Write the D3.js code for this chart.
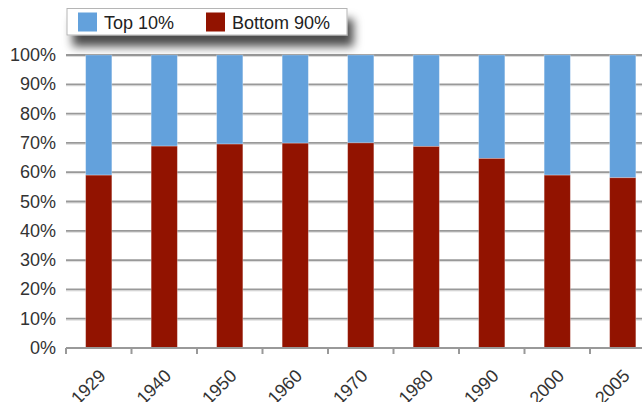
<!DOCTYPE html>
<html>
<head>
<meta charset="utf-8">
<script src="https://cdn.jsdelivr.net/npm/d3@7"></script>
<style>
  html, body { margin: 0; padding: 0; background: #fff; }
  svg { display: block; font-family: "Liberation Sans", Arial, sans-serif; }
</style>
</head>
<body>
<div id="chart"></div>
<script>
const years = ['1929', '1940', '1950', '1960', '1970', '1980', '1990', '2000', '2005'];
const bottom90 = [59.0, 68.9, 69.6, 69.9, 70.0, 68.8, 64.7, 59.0, 58.1];
const top10 = bottom90.map(v => 100 - v);
const yTicks = [0, 10, 20, 30, 40, 50, 60, 70, 80, 90, 100];
const seriesNames = ['Top 10%', 'Bottom 90%'];
const colours = ['#63a1dc', '#921300'];

const width = 642;
const height = 402;

const svg = d3.select('#chart')
  .append('svg')
  .attr('width', width)
  .attr('height', height);

const x = d3.scaleBand()
  .domain(years)
  .range([66, 66 + 9 * 65.5])
  .paddingInner(0.6)
  .paddingOuter(0.3);

const y = d3.scaleLinear()
  .domain([0, 100])
  .range([348, 55]);

// gridlines, with a faint line under each like the original
svg.append('g')
  .selectAll('line')
  .data(yTicks.filter(d => d > 0))
  .enter().append('line')
    .attr('x1', 66)
    .attr('x2', width)
    .attr('y1', d => y(d) + 1.5)
    .attr('y2', d => y(d) + 1.5)
    .attr('stroke', '#dcdcdc')
    .attr('stroke-width', 1);

svg.append('g')
  .selectAll('line')
  .data(yTicks.filter(d => d > 0))
  .enter().append('line')
    .attr('x1', 66)
    .attr('x2', width)
    .attr('y1', d => y(d))
    .attr('y2', d => y(d))
    .attr('stroke', '#999')
    .attr('stroke-width', 1.8);

// y labels
svg.append('g')
  .selectAll('text')
  .data(yTicks)
  .enter().append('text')
    .attr('x', 56)
    .attr('y', d => y(d) + 6)
    .attr('text-anchor', 'end')
    .attr('font-size', 18)
    .attr('fill', '#333')
    .text(d => d + '%');

// stacked bars
const rows = years.map((yr, i) => ({ year: yr, top: top10[i], bottom: bottom90[i] }));
const stack = d3.stack().keys(['top', 'bottom']).order(d3.stackOrderReverse);
const layers = stack(rows);

svg.append('g')
  .selectAll('g')
  .data(layers)
  .enter().append('g')
    .attr('fill', (d, i) => colours[i])
  .selectAll('rect')
  .data(d => d)
  .enter().append('rect')
    .attr('x', d => x(d.data.year))
    .attr('width', x.bandwidth())
    .attr('y', d => y(d[1]))
    .attr('height', d => y(d[0]) - y(d[1]))
    .attr('stroke', 'rgba(255,255,255,0.35)')
    .attr('stroke-width', 0.8);

// x axis
const xAxis = svg.append('g');
xAxis.append('line')
  .attr('x1', 66)
  .attr('x2', width)
  .attr('y1', 348)
  .attr('y2', 348)
  .attr('stroke', '#999')
  .attr('stroke-width', 2);

xAxis.selectAll('line.tick')
  .data(d3.range(years.length + 1))
  .enter().append('line')
    .attr('class', 'tick')
    .attr('x1', i => 66 + i * x.step())
    .attr('x2', i => 66 + i * x.step())
    .attr('y1', 348)
    .attr('y2', 354)
    .attr('stroke', '#999')
    .attr('stroke-width', 2);

xAxis.selectAll('text')
  .data(years)
  .enter().append('text')
    .attr('transform', d => `translate(${x(d) + x.bandwidth() / 2 + 8},377) rotate(-45)`)
    .attr('text-anchor', 'end')
    .attr('font-size', 18)
    .attr('fill', '#333')
    .text(d => d);

// legend
const defs = svg.append('defs');
const f = defs.append('filter')
  .attr('id', 'shadow')
  .attr('x', '-20%').attr('y', '-50%')
  .attr('width', '140%').attr('height', '300%');
f.append('feDropShadow')
  .attr('dx', 6)
  .attr('dy', 11)
  .attr('stdDeviation', 5)
  .attr('flood-color', '#000')
  .attr('flood-opacity', 0.7);

const legend = svg.append('g');
legend.append('rect')
  .attr('x', 67)
  .attr('y', 8.5)
  .attr('width', 280)
  .attr('height', 26.5)
  .attr('fill', '#fff')
  .attr('stroke', '#b5b5b5')
  .attr('stroke-width', 1)
  .attr('filter', 'url(#shadow)');

const legendX = [78, 206];
seriesNames.forEach((name, i) => {
  legend.append('rect')
    .attr('x', legendX[i])
    .attr('y', 12.5)
    .attr('width', 19)
    .attr('height', 19)
    .attr('fill', colours[i]);
  legend.append('text')
    .attr('x', legendX[i] + 26)
    .attr('y', 28.5)
    .attr('font-size', 18)
    .attr('fill', '#222')
    .text(name);
});
</script>
</body>
</html>
